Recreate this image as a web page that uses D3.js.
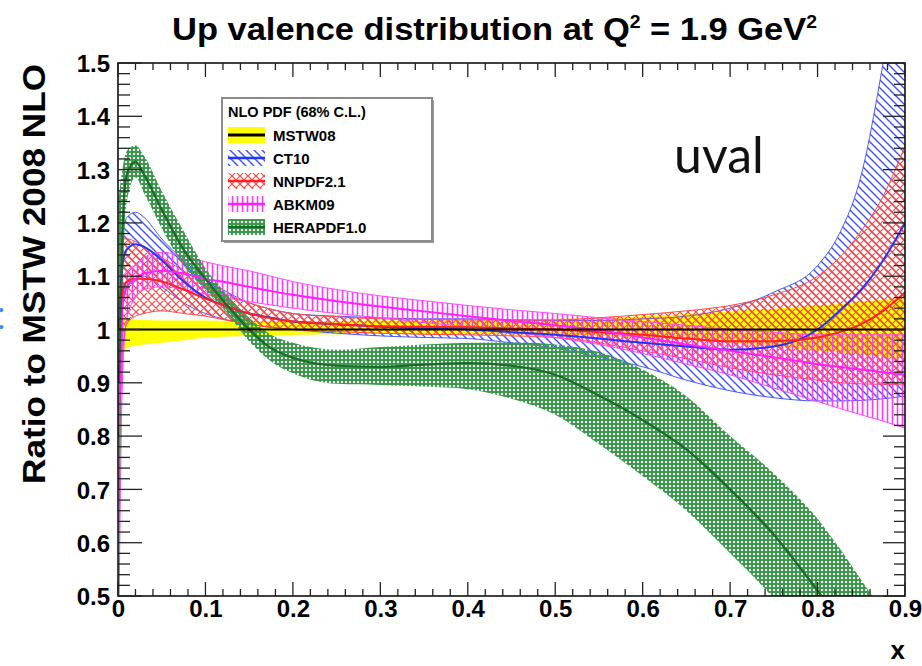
<!DOCTYPE html>
<html>
<head>
<meta charset="utf-8">
<script src="https://cdn.jsdelivr.net/npm/d3@7/dist/d3.min.js"></script>
<style>
html,body{margin:0;padding:0;background:#fff;}
svg{display:block;}
.lbl{font-family:"Liberation Sans",Arial,Helvetica,sans-serif;font-weight:bold;fill:#000;}
</style>
</head>
<body>
<svg id="chart" width="922" height="666"></svg>
<script>
// x values shared by every PDF set
const xGrid = [0.001,0.005,0.01,0.02,0.03,0.05,0.075,0.1,0.125,0.15,0.175,0.2,0.25,0.3,0.35,0.4,0.45,0.5,0.55,0.6,0.65,0.7,0.75,0.8,0.825,0.85,0.875,0.9];

// MSTW08 (reference set, ratio 1 by construction)
const mstwCentral = [1,1,1,1,1,1,1,1,1,1,1,1,1,1,1,1,1,1,1,1,1,1,1,1,1,1,1,1];
const mstwLo = [0.85,0.95,0.965,0.97,0.972,0.975,0.98,0.985,0.987,0.988,0.989,0.99,0.991,0.992,0.992,0.992,0.991,0.99,0.988,0.985,0.981,0.975,0.968,0.96,0.957,0.953,0.949,0.945];
const mstwHi = [1.15,1.03,1.02,1.018,1.018,1.017,1.017,1.017,1.016,1.016,1.016,1.016,1.016,1.017,1.017,1.018,1.019,1.02,1.022,1.025,1.029,1.034,1.039,1.045,1.048,1.052,1.056,1.06];

// CT10
const ct10Central = [1.0,1.12,1.15,1.16,1.155,1.13,1.09,1.06,1.043,1.03,1.022,1.015,1.01,1.005,1.002,1.0,0.995,0.99,0.983,0.975,0.968,0.962,0.968,1.0,1.035,1.075,1.13,1.2];
const ct10Lo = [0.85,1.05,1.09,1.10,1.10,1.08,1.05,1.03,1.018,1.01,1.004,1.0,0.993,0.988,0.985,0.983,0.975,0.965,0.948,0.93,0.905,0.885,0.872,0.866,0.866,0.867,0.87,0.875];
const ct10Hi = [1.2,1.19,1.21,1.22,1.21,1.17,1.13,1.095,1.07,1.05,1.038,1.03,1.025,1.022,1.02,1.02,1.018,1.017,1.017,1.02,1.025,1.04,1.07,1.12,1.18,1.29,1.5,1.75];

// NNPDF2.1
const nnpdfCentral = [1.0,1.07,1.09,1.095,1.095,1.09,1.075,1.058,1.043,1.03,1.021,1.015,1.01,1.006,1.005,1.004,1.002,1.0,0.995,0.99,0.983,0.978,0.978,0.985,0.995,1.01,1.035,1.07];
const nnpdfLo = [0.7,0.95,1.01,1.025,1.03,1.035,1.03,1.025,1.017,1.01,1.004,1.0,0.996,0.993,0.991,0.99,0.988,0.985,0.975,0.96,0.945,0.928,0.915,0.905,0.9,0.898,0.897,0.896];
const nnpdfHi = [1.25,1.17,1.17,1.165,1.155,1.135,1.11,1.085,1.065,1.05,1.038,1.03,1.024,1.02,1.019,1.018,1.018,1.018,1.022,1.028,1.035,1.045,1.065,1.1,1.135,1.185,1.25,1.345];

// ABKM09
const abkmCentral = [0.8,1.04,1.08,1.095,1.105,1.11,1.105,1.095,1.088,1.08,1.072,1.065,1.053,1.043,1.034,1.025,1.016,1.008,0.998,0.985,0.972,0.96,0.948,0.935,0.93,0.925,0.92,0.915];
const abkmLo = [0.45,0.9,1.02,1.06,1.075,1.08,1.075,1.066,1.059,1.052,1.046,1.04,1.03,1.022,1.013,1.005,0.995,0.985,0.972,0.955,0.935,0.915,0.89,0.865,0.852,0.84,0.828,0.815];
const abkmHi = [1.1,1.1,1.11,1.12,1.135,1.145,1.138,1.127,1.118,1.11,1.1,1.09,1.075,1.063,1.054,1.045,1.037,1.03,1.022,1.015,1.008,1.0,0.995,0.99,0.99,0.99,0.99,0.99];

// HERAPDF1.0
const heraCentral = [0.9,1.18,1.29,1.315,1.29,1.225,1.15,1.095,1.045,1.0,0.965,0.947,0.932,0.93,0.934,0.937,0.932,0.915,0.876,0.83,0.775,0.70,0.615,0.51,0.455,0.40,0.345,0.29];
const heraLo = [0.45,1.05,1.24,1.285,1.255,1.19,1.12,1.074,1.03,0.978,0.94,0.918,0.898,0.896,0.893,0.888,0.87,0.84,0.785,0.725,0.66,0.58,0.495,0.39,0.33,0.27,0.205,0.14];
const heraHi = [1.25,1.3,1.335,1.345,1.325,1.26,1.185,1.115,1.065,1.022,0.99,0.975,0.962,0.967,0.972,0.975,0.976,0.972,0.958,0.925,0.875,0.80,0.73,0.645,0.59,0.53,0.47,0.41];

// axis ticks
const xTicks = [0,0.1,0.2,0.3,0.4,0.5,0.6,0.7,0.8,0.9];
const yTicks = [0.5,0.6,0.7,0.8,0.9,1.0,1.1,1.2,1.3,1.4,1.5];

const legendTitle = "NLO PDF (68% C.L.)";
const setNames = ["MSTW08","CT10","NNPDF2.1","ABKM09","HERAPDF1.0"];

// ---------------------------------------------------------------
const svg = d3.select("#chart");
const plot = {left:118, right:905, top:63, bottom:596};
const x = d3.scaleLinear().domain([0,0.9]).range([plot.left, plot.right]);
const y = d3.scaleLinear().domain([0.5,1.5]).range([plot.bottom, plot.top]);

const defs = svg.append("defs");
defs.append("clipPath").attr("id","plotClip")
  .append("rect").attr("x",plot.left).attr("y",plot.top)
  .attr("width",plot.right-plot.left).attr("height",plot.bottom-plot.top);

function hatch(id, size, d, color, w){
  const p = defs.append("pattern").attr("id",id)
    .attr("patternUnits","userSpaceOnUse").attr("width",size).attr("height",size);
  p.append("path").attr("d",d).attr("stroke",color).attr("stroke-width",w).attr("fill","none");
}
hatch("hatchBlue", 8, "M-2,6L2,10M0,0L8,8M6,-2L10,2", "#4050ff", 1.4);
hatch("hatchRed", 8, "M-2,2L2,-2M0,8L8,0M6,10L10,6M-2,6L2,10M0,0L8,8M6,-2L10,2", "#ff4040", 1.1);
hatch("hatchMag", 5, "M2.5,0V5", "#ff38ff", 1.6);
// fine green checker with open holes
const gp = defs.append("pattern").attr("id","checkGreen")
  .attr("patternUnits","userSpaceOnUse").attr("width",4).attr("height",4);
gp.append("path").attr("d","M0,0H4V4H0Z M1,1V3H3V1Z")
  .attr("fill","#3c9a4c").attr("fill-rule","evenodd");

const sets = [
  {name:setNames[0], central:mstwCentral, lo:mstwLo, hi:mstwHi},
  {name:setNames[1], central:ct10Central, lo:ct10Lo, hi:ct10Hi},
  {name:setNames[2], central:nnpdfCentral, lo:nnpdfLo, hi:nnpdfHi},
  {name:setNames[3], central:abkmCentral, lo:abkmLo, hi:abkmHi},
  {name:setNames[4], central:heraCentral, lo:heraLo, hi:heraHi}
];
const styles = {
  "MSTW08":    {fill:"#ffff00", edge:null, line:"#000000", lw:2},
  "CT10":      {fill:"url(#hatchBlue)", edge:"#4a58ff", line:"#2233ff", lw:2},
  "NNPDF2.1":  {fill:"url(#hatchRed)", edge:"#ff4a4a", line:"#ff2020", lw:2},
  "ABKM09":    {fill:"url(#hatchMag)", edge:"#ff48ff", line:"#ff20ff", lw:2},
  "HERAPDF1.0":{fill:"url(#checkGreen)", edge:null, line:"#1b6a28", lw:2.2}
};

const area = (s) => d3.area()
  .x((d,i) => x(xGrid[i]))
  .y0((d,i) => y(s.lo[i]))
  .y1((d,i) => y(s.hi[i]))
  .curve(d3.curveMonotoneX)(xGrid);
const lineOf = (arr) => d3.line()
  .x((d,i) => x(xGrid[i]))
  .y((d,i) => y(arr[i]))
  .curve(d3.curveMonotoneX)(xGrid);

const gData = svg.append("g").attr("clip-path","url(#plotClip)");
sets.forEach(s => {
  const st = styles[s.name];
  gData.append("path").attr("d", area(s)).attr("fill", st.fill).attr("stroke","none");
  if (st.edge) {
    gData.append("path").attr("d", lineOf(s.lo)).attr("fill","none").attr("stroke",st.edge).attr("stroke-width",1);
    gData.append("path").attr("d", lineOf(s.hi)).attr("fill","none").attr("stroke",st.edge).attr("stroke-width",1);
  }
});
// central values, reference set last so its line stays visible
[1,2,3,4,0].forEach(k => {
  const s = sets[k], st = styles[s.name];
  gData.append("path").attr("d", lineOf(s.central)).attr("fill","none")
    .attr("stroke", st.line).attr("stroke-width", st.lw);
});

// frame
svg.append("rect").attr("x",plot.left).attr("y",plot.top)
  .attr("width",plot.right-plot.left).attr("height",plot.bottom-plot.top)
  .attr("fill","none").attr("stroke","#111").attr("stroke-width",1.6);

// tick marks on all four sides
const gTicks = svg.append("g").attr("stroke","#222").attr("stroke-width",1.3);
const xMinor = d3.range(0, 0.9001, 0.02);
const yMinor = d3.range(0.5, 1.5001, 0.02);
xMinor.forEach(v => {
  const major = xTicks.some(t => Math.abs(t-v) < 1e-6);
  const len = major ? 14 : 7;
  gTicks.append("line").attr("x1",x(v)).attr("x2",x(v)).attr("y1",plot.bottom).attr("y2",plot.bottom-len);
  gTicks.append("line").attr("x1",x(v)).attr("x2",x(v)).attr("y1",plot.top).attr("y2",plot.top+len);
});
yMinor.forEach(v => {
  const major = yTicks.some(t => Math.abs(t-v) < 1e-6);
  gTicks.append("line").attr("y1",y(v)).attr("y2",y(v)).attr("x1",plot.left).attr("x2",plot.left+(major?24:12));
  gTicks.append("line").attr("y1",y(v)).attr("y2",y(v)).attr("x1",plot.right).attr("x2",plot.right-(major?22:11));
});

// tick labels via d3 axes (tick lines suppressed, marks drawn above)
const fmt = d3.format("~g");
const xAxis = svg.append("g").attr("transform",`translate(0,${plot.bottom})`)
  .call(d3.axisBottom(x).tickValues(xTicks).tickSize(0).tickPadding(8).tickFormat(fmt));
const yAxis = svg.append("g").attr("transform",`translate(${plot.left},0)`)
  .call(d3.axisLeft(y).tickValues(yTicks).tickSize(0).tickPadding(9).tickFormat(fmt));
[xAxis,yAxis].forEach(a => {
  a.select(".domain").remove();
  a.selectAll("text").attr("class","lbl").style("font-size","24px").attr("fill","#000");
});
xAxis.selectAll("text").attr("dy","0.71em").attr("y",4);
yAxis.selectAll("text").attr("x",-8).attr("dy","0.36em");

// titles
const title = svg.append("text").attr("class","lbl").attr("x",172).attr("y",40)
  .style("font-size","32px").attr("textLength",645).attr("lengthAdjust","spacingAndGlyphs");
title.append("tspan").text("Up valence distribution at Q");
title.append("tspan").attr("dy",-12).style("font-size","18px").text("2");
title.append("tspan").attr("dy",12).text(" = 1.9 GeV");
title.append("tspan").attr("dy",-12).style("font-size","18px").text("2");

svg.append("text").attr("class","lbl")
  .attr("transform","translate(45,64) rotate(-90)")
  .attr("text-anchor","end").style("font-size","32px")
  .attr("textLength",420).attr("lengthAdjust","spacingAndGlyphs")
  .text("Ratio to MSTW 2008 NLO");

svg.append("text").attr("class","lbl").attr("x",905).attr("y",659)
  .attr("text-anchor","end").style("font-size","26px").text("x");

svg.append("text").attr("x",674).attr("y",173)
  .style("font-family","Lato, 'Open Sans', sans-serif").style("font-size","50px")
  .attr("fill","#111").text("uval");

// stray marks at the left border
svg.append("circle").attr("cx",1.5).attr("cy",310).attr("r",2).attr("fill","#3b8cf0");
svg.append("circle").attr("cx",1.5).attr("cy",327).attr("r",2).attr("fill","#3b8cf0");

// legend
const lg = {x0:222, y0:98, x1:432, y1:241};
svg.append("rect").attr("x",lg.x0+2).attr("y",lg.y0+2).attr("width",lg.x1-lg.x0).attr("height",lg.y1-lg.y0)
  .attr("fill","#9a9a9a");
svg.append("rect").attr("x",lg.x0).attr("y",lg.y0).attr("width",lg.x1-lg.x0).attr("height",lg.y1-lg.y0)
  .attr("fill","#fff").attr("stroke","#8a8a8a").attr("stroke-width",2);
svg.append("text").attr("class","lbl").attr("x",228).attr("y",117)
  .style("font-size","14.5px").attr("fill","#3a3a48").text(legendTitle);
const rowY = [135,158,181,204,227];
sets.forEach((s,i) => {
  const st = styles[s.name], cy = rowY[i];
  svg.append("rect").attr("x",228).attr("y",cy-8).attr("width",37).attr("height",16).attr("fill",st.fill);
  svg.append("line").attr("x1",228).attr("x2",265).attr("y1",cy).attr("y2",cy)
    .attr("stroke",st.line).attr("stroke-width",i===0?3:2.5);
  svg.append("text").attr("class","lbl").attr("x",273).attr("y",cy+5.5)
    .style("font-size","15px").attr("fill","#2e2e3c").text(s.name);
});
</script>
</body>
</html>
